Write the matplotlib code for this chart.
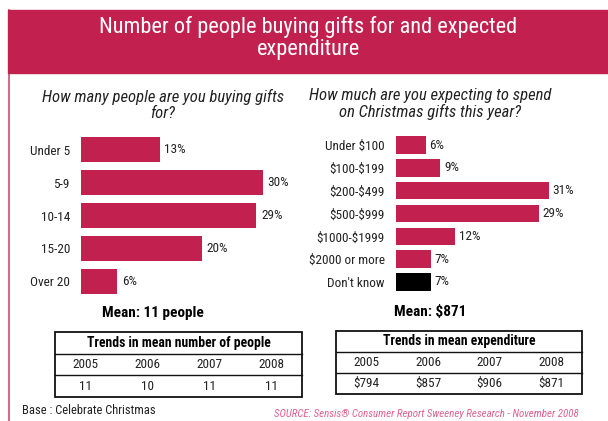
import matplotlib
matplotlib.use("Agg")
import matplotlib.pyplot as plt
from matplotlib import font_manager
from matplotlib.patches import Rectangle
from matplotlib.lines import Line2D

# ---------------- data ----------------
title = "Number of people buying gifts for and expected\nexpenditure"
q1 = "How many people are you buying gifts\nfor?"
q2 = "How much are you expecting to spend\non Christmas gifts this year?"

people_cats = ["Under 5", "5-9", "10-14", "15-20", "Over 20"]
people_vals = [13, 30, 29, 20, 6]

spend_cats = ["Under $100", "$100-$199", "$200-$499", "$500-$999",
              "$1000-$1999", "$2000 or more", "Don't know"]
spend_vals = [6, 9, 31, 29, 12, 7, 7]

mean_people = "Mean: 11 people"
mean_spend = "Mean: $871"

years = ["2005", "2006", "2007", "2008"]
trend_people = ["11", "10", "11", "11"]
trend_spend = ["$794", "$857", "$906", "$871"]
trend_people_title = "Trends in mean number of people"
trend_spend_title = "Trends in mean expenditure"

base_text = "Base : Celebrate Christmas"
source_text = "SOURCE: Sensis\u00ae Consumer Report Sweeney Research - November 2008"

# ---------------- style ----------------
CRIMSON = "#C2214F"
PINK = "#E06090"
TXT = "#222222"
available = {f.name for f in font_manager.fontManager.ttflist}
FONT = "DejaVu Sans"
for cand in ["Liberation Sans Narrow", "DejaVu Sans Condensed", "Roboto Condensed", "Roboto", "Open Sans"]:
    if cand in available:
        FONT = cand
        break
plt.rcParams["font.family"] = [FONT, "DejaVu Sans"]

W, H = 608, 421
fig = plt.figure(figsize=(W / 100, H / 100), dpi=100)
fig.patch.set_facecolor("white")


def px_axes(x0, y0, x1, y1):
    """axes from pixel box (top-left origin)"""
    return fig.add_axes([x0 / W, 1 - y1 / H, (x1 - x0) / W, (y1 - y0) / H])


def ftext(x, y, s, **kw):
    fig.text(x / W, 1 - y / H, s, parse_math=False, **kw)


# title band and left border
fig.patches.append(Rectangle((8 / W, 1 - 73 / H), 1 - 8 / W, 63 / H,
                             transform=fig.transFigure, color=CRIMSON, zorder=0))
fig.lines.append(Line2D([8.5 / W, 8.5 / W], [0, 1 - 10 / H], transform=fig.transFigure,
                        color=CRIMSON, lw=1.2, alpha=0.8))
ftext(308, 38, title, ha="center", va="center", color="white", fontsize=16,
      linespacing=1.05, fontweight="normal")

# subtitles
ftext(163, 105, q1, ha="center", va="center", fontsize=12, style="italic",
      color=TXT, linespacing=1.15)
ftext(430, 104, q2, ha="center", va="center", fontsize=12, style="italic",
      color=TXT, linespacing=1.05)


def bar_panel(box, cats, vals, colors, xmax, fs):
    ax = px_axes(*box)
    n = len(cats)
    ypos = list(range(n))
    ax.barh(ypos, vals, height=0.76, color=colors, edgecolor="none")
    ax.set_xlim(0, xmax)
    ax.set_ylim(n - 0.5, -0.5)
    ax.set_yticks(ypos)
    ax.set_yticklabels(cats, fontsize=fs, color=TXT, parse_math=False)
    ax.tick_params(axis="y", length=0, pad=8)
    ax.set_xticks([])
    for s in ax.spines.values():
        s.set_visible(False)
    for y, v in zip(ypos, vals):
        ax.text(v + 0.8, y, f"{v}%", va="center", ha="left", fontsize=fs, color=TXT)
    ax.patch.set_alpha(0)
    return ax


bar_panel((81, 133.5, 81 + 35 * 6.05, 297.5), people_cats, people_vals,
          [CRIMSON] * len(people_vals), 35, 9.5)
spend_colors = [CRIMSON] * (len(spend_vals) - 1) + ["black"]
bar_panel((396, 133.6, 396 + 35 * 4.93, 293.4), spend_cats, spend_vals,
          spend_colors, 35, 9.5)

# means
ftext(153, 313, mean_people, ha="center", va="center", fontsize=11, fontweight="bold")
ftext(430, 312, mean_spend, ha="center", va="center", fontsize=11, fontweight="bold")


def trend_table(box, head, cols, vals):
    ax = px_axes(*box)
    ax.set_xlim(0, 1)
    ax.set_ylim(3, 0)
    ax.axis("off")
    ax.add_patch(Rectangle((0, 0), 1, 3, fill=False, lw=1.3, edgecolor="#111111",
                           clip_on=False))
    ax.plot([0, 1], [1, 1], color="#111111", lw=1.0, clip_on=False)
    ax.plot([0, 1], [2, 2], color="#111111", lw=1.0, clip_on=False)
    ax.text(0.5, 0.5, head, ha="center", va="center", fontsize=9.8, fontweight="bold")
    n = len(cols)
    for i, (c, v) in enumerate(zip(cols, vals)):
        xc = (i + 0.5) / n
        ax.text(xc, 1.5, c, ha="center", va="center", fontsize=9.5, color=TXT,
                parse_math=False)
        ax.text(xc, 2.5, v, ha="center", va="center", fontsize=9.5, color=TXT,
                parse_math=False)


trend_table((55, 332, 302, 397), trend_people_title, years, trend_people)
trend_table((336, 331, 582, 394), trend_spend_title, years, trend_spend)

ftext(22, 411, base_text, ha="left", va="center", fontsize=9, color=TXT)
ftext(274, 414, source_text, ha="left", va="center", fontsize=7.8, color=PINK,
      style="italic")

fig.savefig("out.png", dpi=100)
